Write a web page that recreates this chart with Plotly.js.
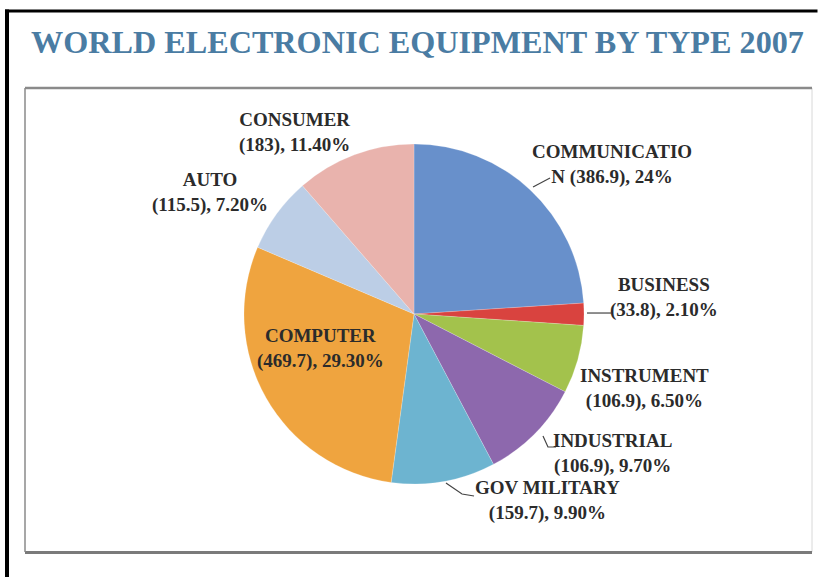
<!DOCTYPE html>
<html>
<head>
<meta charset="utf-8">
<script src="https://cdn.plot.ly/plotly-3.0.1.min.js"></script>
<style>html,body{margin:0;padding:0;background:#fff;overflow:hidden;}#chart{width:818px;height:577px;}</style>
</head>
<body>
<div id="chart"></div>
<script>
// ---- data ----
var categories = ["COMMUNICATION", "BUSINESS", "INSTRUMENT", "INDUSTRIAL", "GOV MILITARY", "COMPUTER", "AUTO", "CONSUMER"];
var amounts = [386.9, 33.8, 106.9, 106.9, 159.7, 469.7, 115.5, 183];
var percents = [24, 2.1, 6.5, 9.7, 9.9, 29.3, 7.2, 11.4];
var sliceColors = ["#6890cb", "#d9433f", "#a3c24c", "#8d68ad", "#6db4d0", "#efa43f", "#bccee6", "#e9b3ad"];
var chartTitle = "WORLD ELECTRONIC EQUIPMENT BY TYPE 2007";

// ---- helpers ----
var W = 818, H = 577;
function px(x) { return x / W; }
function py(y) { return 1 - y / H; }
function fmtPct(p) { return (Math.round(p) === p ? String(p) : p.toFixed(2)) + "%"; }
function labelText(i) {
  var name = categories[i];
  var second = "(" + amounts[i] + "), " + fmtPct(percents[i]);
  if (name.length > 12) { // wrapped as in the reference
    return name.slice(0, 12) + "<br>" + name.slice(12) + " " + second;
  }
  return name + "<br>" + second;
}

// label placement (pixel centres) for each category
var labelPos = [
  {x: 612, y: 164},
  {x: 664, y: 297},
  {x: 644, y: 388},
  {x: 612, y: 453},
  {x: 547, y: 500},
  {x: 320, y: 348},
  {x: 210, y: 192},
  {x: 294, y: 132}
];

var labelFont = {family: "Liberation Serif, Times New Roman, serif", size: 19, color: "#2b2b2b"};

var annotations = categories.map(function (c, i) {
  var p = labelPos[i];
  return {
    xref: "paper", yref: "paper",
    x: px(p.x), y: py(p.y),
    xanchor: "center", yanchor: "middle", align: "center",
    text: "<b>" + labelText(i) + "</b>",
    showarrow: false,
    font: labelFont
  };
});
annotations.push({
  xref: "paper", yref: "paper", x: px(29), y: py(42),
  xanchor: "left", yanchor: "middle", showarrow: false,
  text: "<b>" + chartTitle + "</b>",
  font: {family: "Liberation Serif, Times New Roman, serif", size: 32.2, color: "#4a7ca3"}
});

function pathFrom(pts) {
  return pts.map(function (p, k) { return (k ? "L" : "M") + px(p[0]).toFixed(4) + "," + py(p[1]).toFixed(4); }).join(" ");
}
var leaders = [
  [[533, 187], [550, 178]],
  [[587, 313], [611, 313]],
  [[543, 436], [548, 447], [556, 447]],
  [[446, 483], [462, 494], [474, 496]]
];

var shapes = [];
// outer black frame (left and top)
shapes.push({type: "line", xref: "paper", yref: "paper", x0: px(7), x1: px(7), y0: py(9.5), y1: py(577), line: {color: "#000", width: 4}});
shapes.push({type: "line", xref: "paper", yref: "paper", x0: px(5), x1: px(817.5), y0: py(11), y1: py(11), line: {color: "#000", width: 3}});
// inner chart box
shapes.push({type: "line", xref: "paper", yref: "paper", x0: px(812), x1: px(812), y0: py(88), y1: py(552), line: {color: "#d8d8d8", width: 1}});
shapes.push({type: "line", xref: "paper", yref: "paper", x0: px(25), x1: px(812), y0: py(88), y1: py(88), line: {color: "#8a8a8a", width: 2.5}});
shapes.push({type: "line", xref: "paper", yref: "paper", x0: px(25), x1: px(812), y0: py(552.5), y1: py(552.5), line: {color: "#7a7a7a", width: 3}});
shapes.push({type: "line", xref: "paper", yref: "paper", x0: px(25), x1: px(25), y0: py(88), y1: py(552), line: {color: "#8a8a8a", width: 1.5}});
leaders.forEach(function (pts) {
  shapes.push({type: "path", xref: "paper", yref: "paper", path: pathFrom(pts), line: {color: "#444", width: 1.2}});
});

var cx = 414, cy = 314, r = 170;
var trace = {
  type: "pie",
  labels: categories,
  values: percents,
  sort: false,
  direction: "clockwise",
  rotation: 0,
  marker: {colors: sliceColors, line: {color: "rgba(255,255,255,0.4)", width: 0.5}},
  textinfo: "none",
  hoverinfo: "label+value",
  showlegend: false,
  domain: {x: [px(cx - r), px(cx + r)], y: [py(cy + r), py(cy - r)]}
};

var layout = {
  width: W, height: H,
  margin: {l: 0, r: 0, t: 0, b: 0},
  paper_bgcolor: "#ffffff",
  showlegend: false,
  annotations: annotations,
  shapes: shapes
};

Plotly.newPlot("chart", [trace], layout, {displayModeBar: false, staticPlot: true});
</script>
</body>
</html>
